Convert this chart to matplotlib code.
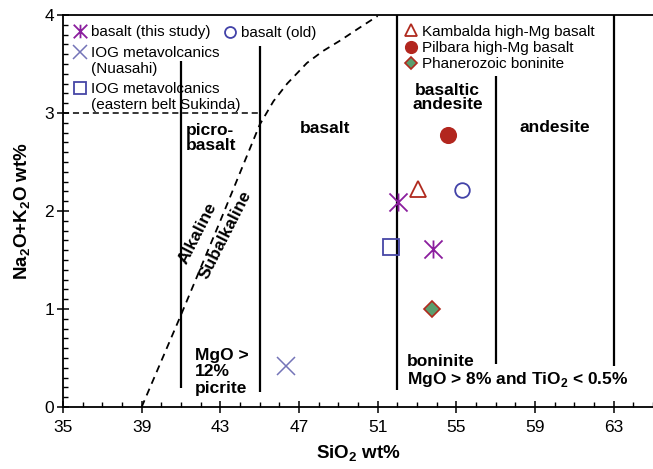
import matplotlib
matplotlib.use("Agg")
import matplotlib.pyplot as plt
from matplotlib.path import Path
from matplotlib.ticker import MultipleLocator
from matplotlib.legend_handler import HandlerLine2D

plt.rcParams['font.family'] = ['Liberation Sans', 'DejaVu Sans']
plt.rcParams['mathtext.fontset'] = 'custom'
plt.rcParams['mathtext.rm'] = 'Liberation Sans'
plt.rcParams['mathtext.bf'] = 'Liberation Sans:bold'

# ---- data ----
this_study_x = [52.05, 53.8]
this_study_y = [2.09, 1.61]
nuasahi_x = [46.35]
nuasahi_y = [0.42]
sukinda_x = [51.7]
sukinda_y = [1.63]
old_x = [55.3]
old_y = [2.21]
kambalda_x = [53.05]
kambalda_y = [2.22]
pilbara_x = [54.6]
pilbara_y = [2.78]
boninite_x = [53.75]
boninite_y = [1.0]

# field boundaries (x, ymin, ymax)
vlines_x = [41, 45, 52, 57, 63]
vlines_ymin = [0.19, 0.15, 0.17, 0.44, 0.42]
vlines_ymax = [3.53, 3.68, 4.0, 3.38, 4.0]
# alkaline / subalkaline divide
alk_x = [39.0, 41.0, 43.0, 45.0, 45.7, 46.4, 47.4, 48.2, 49.1, 50.0, 51.0]
alk_y = [0.0, 0.94, 1.9, 2.88, 3.12, 3.3, 3.51, 3.63, 3.74, 3.86, 3.99]
# picrite top line
hline_y = 3.0
hline_x = [35, 45]

xticks = [35, 39, 43, 47, 51, 55, 59, 63]
yticks = [0, 1, 2, 3, 4]


class ShiftedHandler(HandlerLine2D):
    """Place the legend marker on the first line of a two-line label."""
    def __init__(self, shift, **kw):
        super().__init__(**kw)
        self.shift = shift

    def create_artists(self, legend, orig_handle, xdescent, ydescent, width, height, fontsize, trans):
        arts = super().create_artists(legend, orig_handle, xdescent, ydescent, width, height, fontsize, trans)
        for a in arts:
            xd, yd = a.get_data()
            a.set_data(xd, [v + self.shift * fontsize for v in yd])
        return arts


fig = plt.figure(figsize=(6.53, 4.69), dpi=100)
ax = fig.add_axes([63/653, 1 - 407/469, 1 - 63/653, (407 - 15)/469])
ax.set_xlim(35, 65)
ax.set_ylim(0, 4)

for x, y0, y1 in zip(vlines_x, vlines_ymin, vlines_ymax):
    ax.plot([x, x], [y0, y1], color='black', lw=1.6, solid_capstyle='butt', zorder=2)
ax.plot(hline_x, [hline_y, hline_y], color='black', lw=1.1, ls=(0, (4, 2.5)), zorder=2)
ax.plot(alk_x, alk_y, color='black', lw=1.3, ls=(0, (4, 3)), zorder=2)

# asterisk marker
ast = Path([(-1, -1), (1, 1), (-1, 1), (1, -1), (0, -1), (0, 1)],
           [Path.MOVETO, Path.LINETO, Path.MOVETO, Path.LINETO, Path.MOVETO, Path.LINETO])

h1, = ax.plot(this_study_x, this_study_y, ls='none', marker=ast, ms=13, mec='#8B1E9E', mew=1.3,
              label='basalt (this study)', zorder=4)
h2, = ax.plot(nuasahi_x, nuasahi_y, ls='none', marker='x', ms=12.5, mec='#7474B8', mew=1.1,
              label='IOG metavolcanics\n(Nuasahi)', zorder=4)
h3, = ax.plot(sukinda_x, sukinda_y, ls='none', marker='s', ms=11, mfc='none', mec='#4646A6', mew=1.3,
              label='IOG metavolcanics\n(eastern belt Sukinda)', zorder=4)
h4, = ax.plot(old_x, old_y, ls='none', marker='o', ms=10.5, mfc='none', mec='#4242A8', mew=1.3,
              label='basalt (old)', zorder=4)
h5, = ax.plot(kambalda_x, kambalda_y, ls='none', marker='^', ms=12, mfc='none', mec='#B02A1E', mew=1.3,
              label='Kambalda high-Mg basalt', zorder=4)
h6, = ax.plot(pilbara_x, pilbara_y, ls='none', marker='o', ms=11.3, mfc='#B2261E', mec='#B2261E', mew=1,
              label='Pilbara high-Mg basalt', zorder=4)
h7, = ax.plot(boninite_x, boninite_y, ls='none', marker='D', ms=8.5, mfc='#5A9E6E', mec='#B02A1E', mew=1.2,
              label='Phanerozoic boninite', zorder=4)

leg_kw = dict(frameon=False, loc='upper left', borderpad=0, borderaxespad=0,
              handlelength=1.0, handletextpad=0.2, fontsize=11, markerscale=0.75)
legA = ax.legend(handles=[h1, h2, h3], bbox_to_anchor=(0.016, 0.974), labelspacing=0.42,
                 handler_map={h2: ShiftedHandler(0.6), h3: ShiftedHandler(0.6)}, **leg_kw)
ax.add_artist(legA)
legB = ax.legend(handles=[h4], bbox_to_anchor=(0.27, 0.972), **leg_kw)
ax.add_artist(legB)
legC = ax.legend(handles=[h5, h6, h7], bbox_to_anchor=(0.577, 0.975), labelspacing=0.15, **leg_kw)

fs = 12.5
ax.text(41.25, 2.9, 'picro-\nbasalt', fontsize=fs, fontweight='bold', ha='left', va='top', linespacing=1.05)
ax.text(48.3, 2.84, 'basalt', fontsize=fs, fontweight='bold', ha='center', va='center')
ax.text(54.55, 3.16, 'basaltic\nandesite', fontsize=fs, fontweight='bold', ha='center', va='center', linespacing=0.95)
ax.text(60.0, 2.85, 'andesite', fontsize=fs, fontweight='bold', ha='center', va='center')
ax.text(41.7, 0.36, 'MgO >\n12%\npicrite', fontsize=fs, fontweight='bold', ha='left', va='center', linespacing=1.12)
ax.text(52.5, 0.36, 'boninite\nMgO > 8% and TiO$_\\mathbf{2}$ < 0.5%', fontsize=fs, fontweight='bold',
        ha='left', va='center', linespacing=1.1)
ax.text(41.85, 1.77, 'Alkaline', fontsize=fs, fontweight='bold', ha='center', va='center', rotation=63)
ax.text(43.25, 1.76, 'Subalkaline', fontsize=fs, fontweight='bold', ha='center', va='center', rotation=63)

ax.set_xticks(xticks)
ax.set_yticks(yticks)
ax.xaxis.set_minor_locator(MultipleLocator(1))
ax.yaxis.set_minor_locator(MultipleLocator(0.1))
ax.tick_params(which='major', direction='inout', length=9, width=1.1, labelsize=12.5)
ax.tick_params(axis='x', which='major', pad=5)
ax.tick_params(axis='y', which='major', pad=2)
ax.tick_params(which='minor', direction='in', length=3.5, width=1.0)
ax.spines['right'].set_visible(False)
for s in ['left', 'bottom', 'top']:
    ax.spines[s].set_linewidth(1.3)

ax.set_xlabel('SiO$_\\mathbf{2}$ wt%', fontsize=13.5, fontweight='bold', labelpad=6)
ax.set_ylabel('Na$_\\mathbf{2}$O+K$_\\mathbf{2}$O wt%', fontsize=13.5, fontweight='bold', labelpad=8)

fig.savefig('out.png', dpi=100)
